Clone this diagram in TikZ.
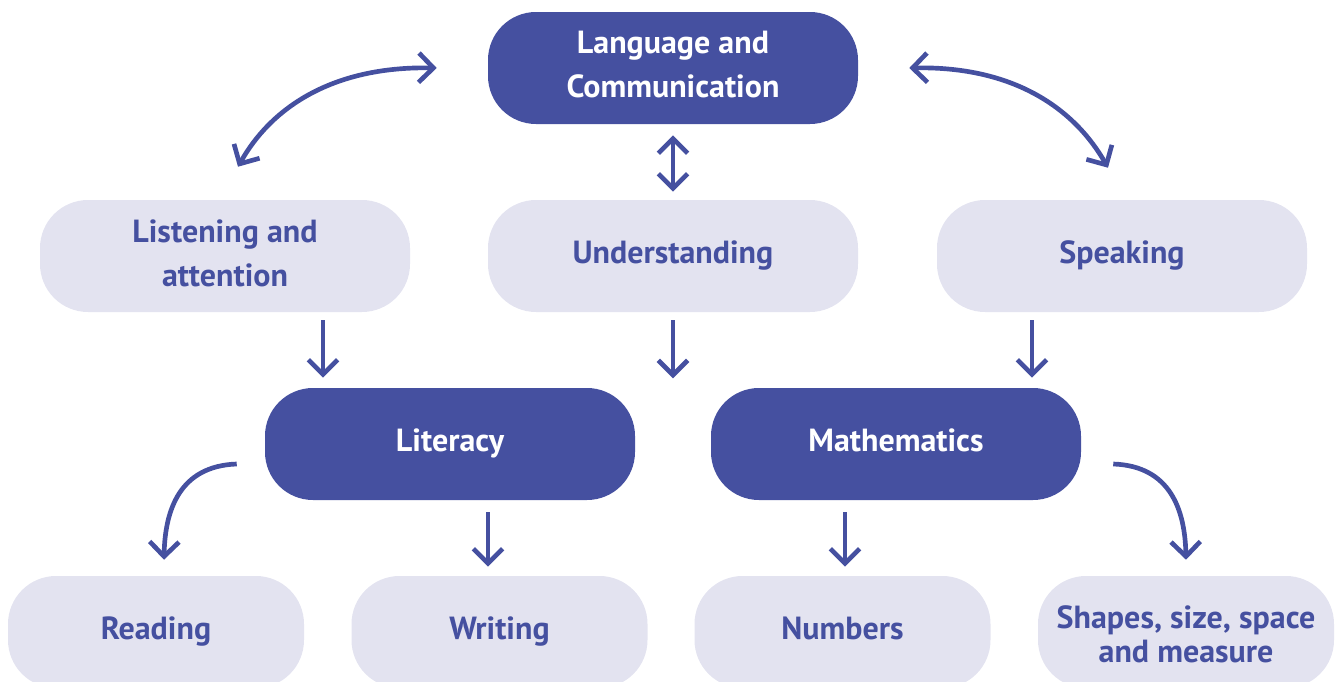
\documentclass[tikz,border=0pt]{standalone}
\usepackage{fontspec}
\setmainfont{PT Sans}
\usetikzlibrary{arrows.meta,calc}
\definecolor{navy}{HTML}{4550A0}
\definecolor{pale}{HTML}{E3E3F0}
\begin{document}
\begin{tikzpicture}[x=0.75pt,y=-0.75pt,
  dark/.style={fill=navy, rounded corners=36pt, minimum width=277.5pt, minimum height=84pt, inner sep=0pt},
  light/.style={fill=pale, rounded corners=36pt, minimum width=277.5pt, minimum height=84pt, inner sep=0pt},
  lowbox/.style={light, minimum width=222pt},
  wtxt/.style={text=white, font=\bfseries\fontsize{24}{33}\selectfont, align=center, anchor=base, inner sep=0pt},
  btxt/.style={wtxt, text=navy},
  conn/.style={draw=navy, line width=3.5pt, -{Straight Barb[length=11pt,width=22pt]}},
  both/.style={draw=navy, line width=3.5pt, {Straight Barb[length=11pt,width=22pt]}-{Straight Barb[length=11pt,width=22pt]}}
]
\useasboundingbox (0,0) rectangle (1336,682);
\clip (0,0) rectangle (1336,682);

% boxes
\node[dark]   (lang)   at (673,68)    {};
\node[light]  (listen) at (225,256)   {};
\node[light]  (und)    at (673,256)   {};
\node[light]  (speak)  at (1122,256)  {};
\node[dark]   (lit)    at (450,444)   {};
\node[dark]   (math)   at (896,444)   {};
\node[lowbox] (read)   at (156,632)   {};
\node[lowbox] (write)  at (499.5,632) {};
\node[lowbox] (num)    at (842.5,632) {};
\node[lowbox] (shape)  at (1186,632)  {};

% texts (anchor = baseline of the last line)
\node[wtxt] (langT)   at ($(lang.center)+(0,29)$)    {Language and\\Communication};
\node[btxt] (listenT) at ($(listen.center)+(0,30)$)  {Listening and\\attention};
\node[btxt] (undT)    at ($(und.center)+(0,7)$)      {Understanding};
\node[btxt] (speakT)  at ($(speak.center)+(0,7)$)    {Speaking};
\node[wtxt] (litT)    at ($(lit.center)+(0,7)$)      {Literacy};
\node[wtxt] (mathT)   at ($(math.center)+(0,7)$)     {Mathematics};
\node[btxt] (readT)   at ($(read.center)+(0,7)$)     {Reading};
\node[btxt] (writeT)  at ($(write.center)+(0,7)$)    {Writing};
\node[btxt] (numT)    at ($(num.center)+(0,7)$)      {Numbers};
\node[btxt, font=\bfseries\fontsize{24}{25.5}\selectfont] (shapeT) at ($(shape.center)+(0,30)$) {Shapes, size, space\\and measure};

% connectors
\draw[both] ($(lang.west)+(-51,0)$) .. controls ($(lang.west)+(-158,-2)$) and ($(listen.north)+(45,-90)$) .. ($(listen.north)+(13,-33)$);
\draw[both] ($(lang.east)+(51,0)$) .. controls ($(lang.east)+(157,-2)$) and ($(speak.north)+(-47,-90)$) .. ($(speak.north)+(-14,-32)$);
\draw[both] ($(lang.south)+(0,11)$) -- ($(und.north)+(0,-8)$);

\coordinate (gap) at ($(und.south)+(0,66)$);
\draw[conn] ($(listen.south)+(98,8)$) -- ($(lit.north)+(-127,-10)$);
\draw[conn] ($(und.south)+(0,8)$) -- (gap);
\draw[conn] ($(speak.south)+(-90,8)$) -- ($(math.north)+(136,-10)$);

\draw[conn] ($(lit.west)+(-28,20)$) .. controls ($(lit.west)+(-85,22)$) and ($(read.north)+(9,-66)$) .. ($(read.north)+(8,-16)$);
\draw[conn] ($(lit.south)+(38,12)$) -- ($(write.north)+(-11.5,-9)$);
\draw[conn] ($(math.south)+(-51,12)$) -- ($(num.north)+(2.5,-9)$);
\draw[conn] ($(math.east)+(32,20)$) .. controls ($(math.east)+(89,22)$) and ($(shape.north)+(-1,-66)$) .. ($(shape.north)+(0,-16)$);
\end{tikzpicture}
\end{document}
